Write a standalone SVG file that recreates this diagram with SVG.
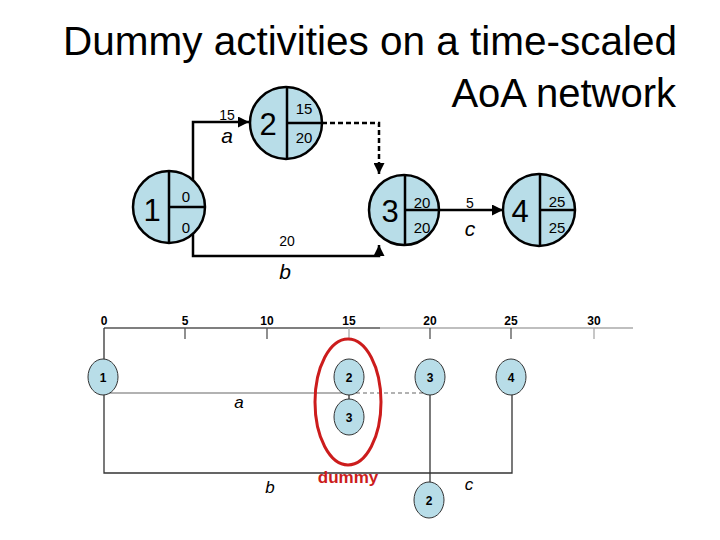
<svg xmlns="http://www.w3.org/2000/svg" width="720" height="540" viewBox="0 0 720 540">
<style>
.title{font-family:"Liberation Sans",Arial,sans-serif;font-size:40px;fill:#000;text-anchor:end}
.big{font-family:"Liberation Sans",Arial,sans-serif;font-size:31px;text-anchor:middle}
.sm{font-family:"Liberation Sans",Arial,sans-serif;font-size:14px;text-anchor:middle}
.lbl{font-family:"Liberation Sans",Arial,sans-serif;font-size:15px;text-anchor:middle}
.it{font-family:"Liberation Sans",Arial,sans-serif;font-size:21px;font-style:italic;text-anchor:middle}
.nd{fill:#b8dde8;stroke:#000;stroke-width:2.5}
.dv{stroke:#000;stroke-width:2.5;fill:none}
.ar{stroke:#000;stroke-width:2.5;fill:none}
.tk{font-family:"Liberation Sans",Arial,sans-serif;font-size:12px;font-weight:bold;text-anchor:middle}
.en{fill:#b8dde8;stroke:#333;stroke-width:1}
.tl{stroke:#333;stroke-width:1.3;fill:none}
.it2{font-family:"Liberation Sans",Arial,sans-serif;font-size:17px;font-style:italic;text-anchor:middle}
</style>
<defs>
<marker id="ah" viewBox="0 0 10 10" refX="10" refY="5" markerWidth="4.8" markerHeight="4.4" orient="auto" markerUnits="strokeWidth">
<path d="M0,0 L10,5 L0,10 z" fill="#000"/>
</marker>
</defs>
<text class="title" x="677" y="55" textLength="614" lengthAdjust="spacingAndGlyphs">Dummy activities on a time-scaled</text>
<text class="title" x="676" y="107">AoA network</text>

<g id="connectors">
<path class="ar" d="M193,182 V122 H249" marker-end="url(#ah)"/>
<path class="ar" d="M322,123 H379 V174" stroke-dasharray="5,3" marker-end="url(#ah)"/>
<path class="ar" d="M193,232 V256 H379 V245" marker-end="url(#ah)"/>
<path class="ar" d="M440,210 H503" marker-end="url(#ah)"/>
<text class="sm" x="227" y="120">15</text>
<text class="it" x="227" y="143">a</text>
<text class="sm" x="287" y="246">20</text>
<text class="it" x="285" y="279">b</text>
<text class="sm" x="470" y="208">5</text>
<text class="it" x="470" y="236">c</text>
</g>

<g id="node1">
<circle class="nd" cx="169" cy="207" r="36"/>
<path class="dv" d="M169,171 V243 M169,207 H205"/>
<text class="big" x="152" y="221">1</text>
<text class="lbl" x="186" y="202">0</text>
<text class="lbl" x="186" y="233">0</text>
</g>
<g id="node2">
<circle class="nd" cx="286" cy="123" r="36"/>
<path class="dv" d="M287,87 V159 M287,123 H322"/>
<text class="big" x="268" y="135">2</text>
<text class="lbl" x="304" y="114">15</text>
<text class="lbl" x="304" y="143">20</text>
</g>
<g id="node3">
<circle class="nd" cx="404" cy="210" r="35"/>
<path class="dv" d="M405,175 V245 M405,210 H439"/>
<text class="big" x="390" y="222">3</text>
<text class="lbl" x="422" y="208">20</text>
<text class="lbl" x="422" y="233">20</text>
</g>
<g id="node4">
<circle class="nd" cx="539" cy="210" r="36"/>
<path class="dv" d="M540,174 V246 M540,210 H575"/>
<text class="big" x="520" y="222">4</text>
<text class="lbl" x="557" y="207">25</text>
<text class="lbl" x="557" y="233">25</text>
</g>

<g id="timeline">
<path d="M104,328 H380" stroke="#555" stroke-width="1.3"/>
<path d="M380,328 H633" stroke="#aaa" stroke-width="1.3"/>
<path d="M185,328 V339 M267,328 V339 M430,328 V339 M511,328 V339" stroke="#555" stroke-width="1.3"/>
<path d="M349,328 V339 M594,328 V339" stroke="#aaa" stroke-width="1.3"/>
<text class="tk" x="104" y="325">0</text>
<text class="tk" x="185" y="325">5</text>
<text class="tk" x="267" y="325">10</text>
<text class="tk" x="349" y="325">15</text>
<text class="tk" x="430" y="325">20</text>
<text class="tk" x="511" y="325">25</text>
<text class="tk" x="594" y="325">30</text>
</g>

<g id="tconnectors">
<path class="tl" d="M104,328 V359"/>
<path class="tl" d="M104,395 V473 H512 V395"/>
<path d="M104,393 H349" stroke="#999" stroke-width="1.3"/>
<path d="M349,393 H430" stroke="#999" stroke-width="1.3" stroke-dasharray="4,3"/>
<path class="tl" d="M349,395 V400"/>
<path class="tl" d="M430,395 V482"/>
<text class="it2" x="239" y="408">a</text>
<text class="it2" x="270" y="493">b</text>
<text class="it2" x="469" y="490">c</text>
</g>

<g id="t1"><ellipse class="en" cx="103" cy="377" rx="15" ry="18"/><text class="tk" x="103" y="382">1</text></g>
<g id="t2"><ellipse class="en" cx="349" cy="377" rx="15" ry="18"/><text class="tk" x="349" y="382">2</text></g>
<g id="t3"><ellipse class="en" cx="430" cy="377" rx="15" ry="18"/><text class="tk" x="430" y="382">3</text></g>
<g id="t4"><ellipse class="en" cx="511" cy="377" rx="15" ry="18"/><text class="tk" x="511" y="382">4</text></g>
<g id="t3b"><ellipse class="en" cx="349" cy="417" rx="15" ry="18"/><text class="tk" x="349" y="422">3</text></g>
<g id="t2b"><ellipse class="en" cx="429" cy="500" rx="15" ry="18"/><text class="tk" x="429" y="505">2</text></g>

<g id="dummy">
<ellipse cx="348" cy="402" rx="33" ry="63" fill="none" stroke="#cc1c1c" stroke-width="3"/>
<text x="348" y="483" font-family="'Liberation Sans',Arial,sans-serif" font-size="17" font-weight="bold" fill="#cc1c1c" text-anchor="middle">dummy</text>
</g>
</svg>
